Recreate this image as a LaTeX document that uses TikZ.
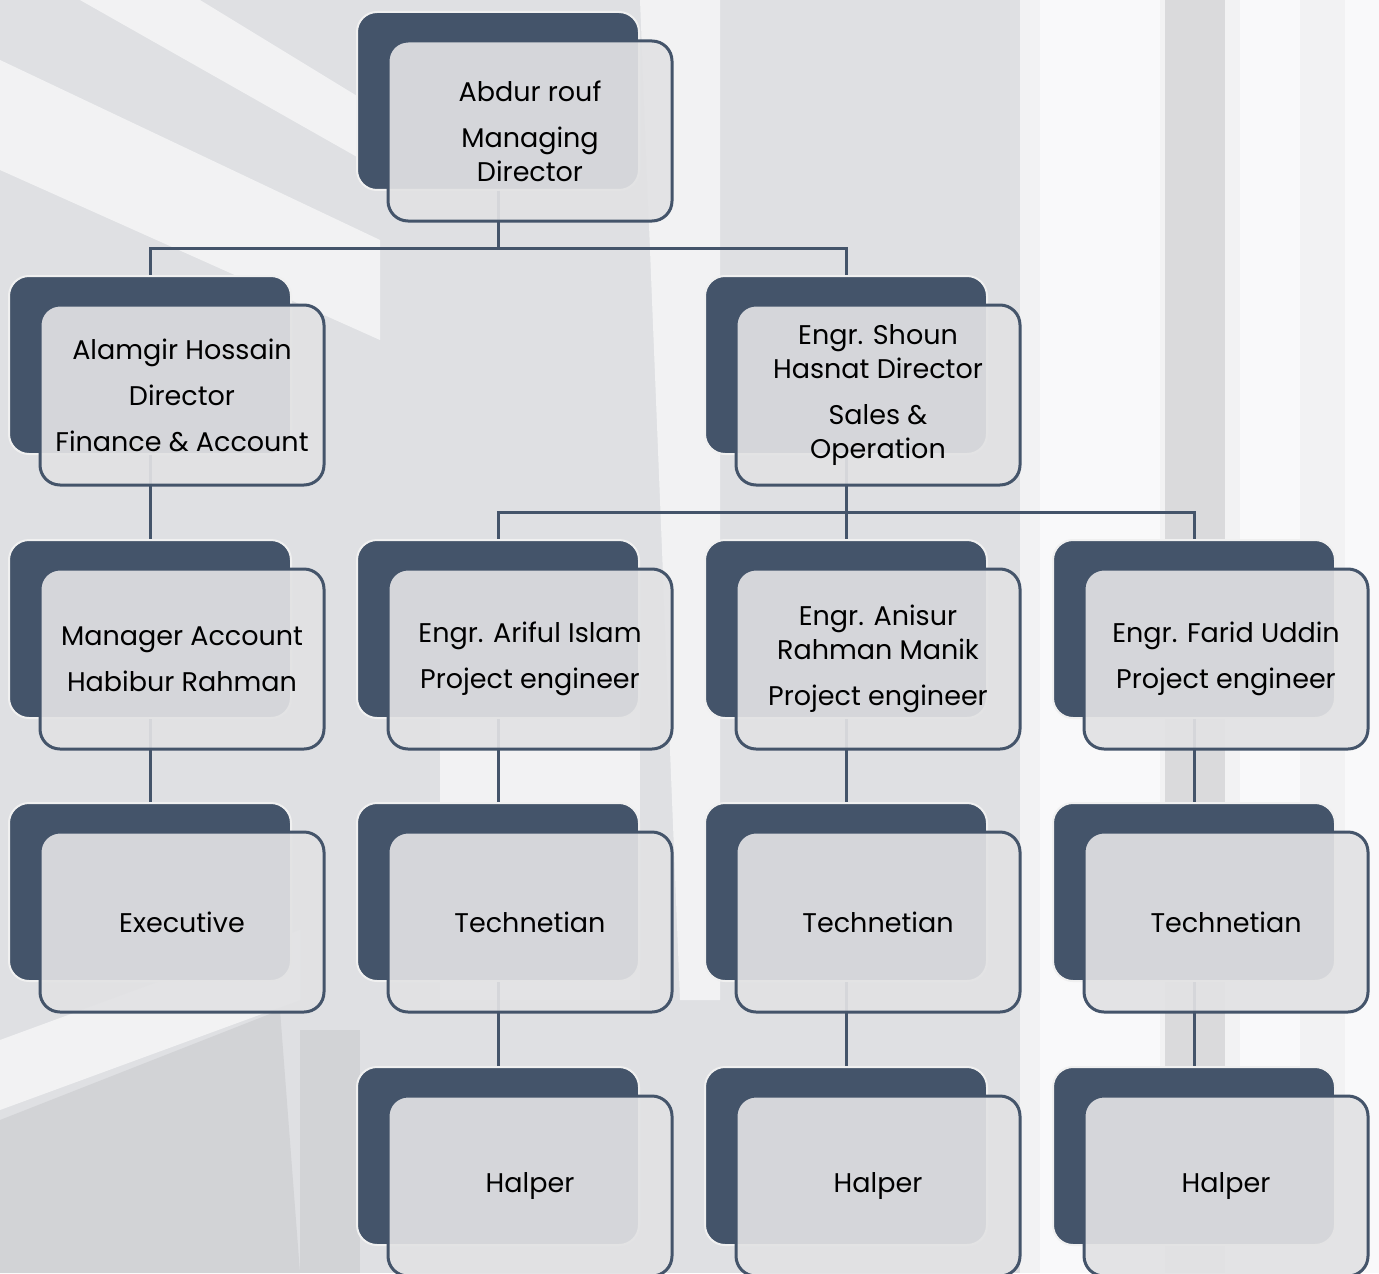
\documentclass[tikz,border=0pt]{standalone}
\usepackage{fontspec}
\setmainfont{Poppins}
\definecolor{slate}{HTML}{44546A}
\definecolor{veil}{RGB}{226,226,228}
\definecolor{photo}{RGB}{223,224,227}
\definecolor{steel}{RGB}{202,203,206}
\tikzset{
  backbox/.style={rounded corners=10pt, fill=slate, draw=white!88!gray, line width=1pt,
    minimum width=141pt, minimum height=89pt, inner sep=0pt},
  frontbox/.style={rounded corners=10pt, fill=veil, fill opacity=0.92, text opacity=1,
    draw=slate, line width=1.5pt, minimum width=142pt, minimum height=90pt, inner sep=0pt,
    align=center, font=\fontsize{13.5}{17}\selectfont},
  link/.style={draw=slate, line width=1.5pt},
  glare/.style={fill=white, fill opacity=0.6, draw=none},
  shade/.style={fill=steel, fill opacity=0.6, draw=none},
}
\begin{document}
\begin{tikzpicture}[x=0.5pt,y=-0.5pt]
    \useasboundingbox (0,0) rectangle (1379,1273);
    \clip (0,0) rectangle (1379,1273);
    % background photo
    \fill[photo] (0,0) rectangle (1379,1273);
    \fill[glare] (0,60) -- (0,170) -- (380,340) -- (380,240) -- cycle;
    \fill[glare] (80,0) -- (200,0) -- (380,110) -- (380,170) -- cycle;
    \fill[glare] (640,0) -- (720,0) -- (720,1000) -- (680,1000) -- cycle;
    \fill[glare] (440,690) -- (640,690) -- (640,1000) -- (440,1000) -- cycle;
    \fill[glare] (1020,0) rectangle (1379,1273);
    \fill[glare] (1040,0) rectangle (1160,1273);
    \fill[glare] (1240,0) rectangle (1300,1273);
    \fill[glare] (1345,0) rectangle (1379,1273);
    \fill[shade] (1165,0) rectangle (1225,1273);
    \fill[shade] (0,1120) -- (280,1010) -- (300,1273) -- (0,1273) -- cycle;
    \fill[glare] (0,1040) -- (300,930) -- (300,1000) -- (0,1110) -- cycle;
    \fill[shade] (300,1030) -- (360,1030) -- (360,1273) -- (300,1273) -- cycle;
    % back boxes
    \node[backbox] (md)    at (498,101)  {};
    \node[backbox] (fin)   at (150,365)  {};
    \node[backbox] (ops)   at (846,365)  {};
    \node[backbox] (acc)   at (150,629)  {};
    \node[backbox] (pe1)   at (498,629)  {};
    \node[backbox] (pe2)   at (846,629)  {};
    \node[backbox] (pe3)   at (1194,629) {};
    \node[backbox] (exec)  at (150,892)  {};
    \node[backbox] (tech1) at (498,892)  {};
    \node[backbox] (tech2) at (846,892)  {};
    \node[backbox] (tech3) at (1194,892) {};
    \node[backbox] (halp1) at (498,1156) {};
    \node[backbox] (halp2) at (846,1156) {};
    \node[backbox] (halp3) at (1194,1156) {};
    % connectors
    \draw[link] (md.south) -- ++(0,57) -| (fin.north);
    \draw[link] (md.south) ++(0,57) -| (ops.north);
    \draw[link] (fin.south) -- (acc.north);
    \draw[link] (ops.south) -- ++(0,57) -| (pe1.north);
    \draw[link] (ops.south) -- (pe2.north);
    \draw[link] (ops.south) ++(0,57) -| (pe3.north);
    \draw[link] (acc.south) -- (exec.north);
    \draw[link] (pe1.south) -- (tech1.north);
    \draw[link] (pe2.south) -- (tech2.north);
    \draw[link] (pe3.south) -- (tech3.north);
    \draw[link] (tech1.south) -- (halp1.north);
    \draw[link] (tech2.south) -- (halp2.north);
    \draw[link] (tech3.south) -- (halp3.north);
    % front boxes
    \node[frontbox] (md-f)    at ([shift={(32,30)}]md.center)    {Abdur rouf\\[6pt]Managing\\Director};
    \node[frontbox] (fin-f)   at ([shift={(32,30)}]fin.center)   {Alamgir Hossain\\[6pt]Director\\[6pt]Finance \& Account};
    \node[frontbox] (ops-f)   at ([shift={(32,30)}]ops.center)   {Engr. Shoun\\Hasnat Director\\[6pt]Sales \&\\Operation};
    \node[frontbox] (acc-f)   at ([shift={(32,30)}]acc.center)   {Manager Account\\[6pt]Habibur Rahman};
    \node[frontbox] (pe1-f)   at ([shift={(32,30)}]pe1.center)   {Engr. Ariful Islam\\[6pt]Project engineer};
    \node[frontbox] (pe2-f)   at ([shift={(32,30)}]pe2.center)   {Engr. Anisur\\Rahman Manik\\[6pt]Project engineer};
    \node[frontbox] (pe3-f)   at ([shift={(32,30)}]pe3.center)   {Engr. Farid Uddin\\[6pt]Project engineer};
    \node[frontbox] (exec-f)  at ([shift={(32,30)}]exec.center)  {Executive};
    \node[frontbox] (tech1-f) at ([shift={(32,30)}]tech1.center) {Technetian};
    \node[frontbox] (tech2-f) at ([shift={(32,30)}]tech2.center) {Technetian};
    \node[frontbox] (tech3-f) at ([shift={(32,30)}]tech3.center) {Technetian};
    \node[frontbox] (halp1-f) at ([shift={(32,30)}]halp1.center) {Halper};
    \node[frontbox] (halp2-f) at ([shift={(32,30)}]halp2.center) {Halper};
    \node[frontbox] (halp3-f) at ([shift={(32,30)}]halp3.center) {Halper};
\end{tikzpicture}
\end{document}
